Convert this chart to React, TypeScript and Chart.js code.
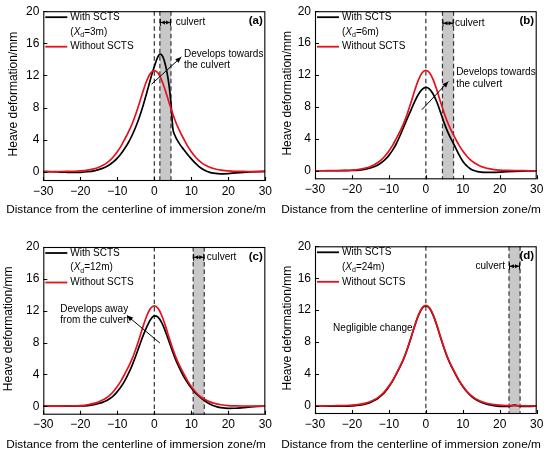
import React, { useEffect, useRef } from "react";
import { Chart, registerables } from "chart.js";

Chart.register(...registerables);

const FONT = "'Liberation Sans', Arial, Helvetica, sans-serif";

// ---------- data ----------
const X_GRID = [-30, -28, -26, -24, -22, -20, -18, -16, -15, -14, -13, -12, -11, -10, -9, -8, -7, -6, -5, -4, -3, -2, -1, 0, 1, 2, 3, 4, 5, 6, 7, 8, 9, 10, 11, 12, 13, 14, 15, 16, 17, 18, 20, 22, 24, 26, 28, 30];

const RED_WITHOUT = [0.02, 0.02, 0.03, 0.04, 0.06, 0.1, 0.2, 0.4, 0.56, 0.78, 1.05, 1.42, 1.9, 2.5, 3.2, 4.05, 4.95, 5.95, 7.2, 8.6, 10.1, 11.4, 12.3, 12.6, 12.3, 11.4, 10.1, 8.6, 7.2, 5.95, 4.95, 4.05, 3.2, 2.5, 1.9, 1.42, 1.05, 0.78, 0.56, 0.4, 0.28, 0.2, 0.1, 0.06, 0.04, 0.03, 0.02, 0.02];

const X_A = [-30, -28, -26, -24, -22, -20, -18, -16, -15, -14, -13, -12, -11, -10, -9, -8, -7, -6, -5, -4, -3, -2, -1, -0.5, 0, 0.5, 1, 1.5, 2, 2.5, 3, 3.5, 4, 4.5, 5, 5.5, 6, 7, 8, 9, 10, 11, 12, 13, 14, 15, 16, 18, 20, 22, 24, 26, 28, 30];
const BLACK_A = [0.03, 0.0, -0.03, -0.06, -0.08, -0.07, 0.0, 0.15, 0.27, 0.42, 0.62, 0.9, 1.25, 1.7, 2.25, 2.9, 3.65, 4.55, 5.6, 6.85, 8.3, 9.9, 11.6, 12.4, 13.1, 13.8, 14.35, 14.65, 14.55, 14.1, 13.3, 12.2, 10.7, 8.6, 5.4, 4.6, 4.1, 3.35, 2.75, 2.15, 1.6, 1.1, 0.68, 0.35, 0.1, -0.08, -0.18, -0.26, -0.22, -0.14, -0.07, -0.02, 0.02, 0.05];

const BLACK_B = [0.02, 0.02, 0.02, 0.02, 0.03, 0.05, 0.1, 0.24, 0.36, 0.52, 0.75, 1.05, 1.45, 1.95, 2.6, 3.4, 4.4, 5.5, 6.6, 7.65, 8.7, 9.6, 10.2, 10.45, 10.25, 9.6, 8.6, 7.3, 5.95, 4.8, 3.85, 2.95, 2.0, 1.2, 0.65, 0.28, 0.05, -0.08, -0.15, -0.18, -0.19, -0.18, -0.14, -0.09, -0.05, -0.02, 0.0, 0.02];

const BLACK_C = [0.02, 0.02, 0.02, 0.02, 0.03, 0.05, 0.1, 0.25, 0.36, 0.5, 0.7, 0.98, 1.35, 1.85, 2.45, 3.2, 4.1, 5.15, 6.35, 7.65, 8.9, 10.0, 10.9, 11.35, 11.2, 10.5, 9.4, 8.1, 6.8, 5.6, 4.6, 3.7, 2.95, 2.3, 1.75, 1.3, 0.92, 0.58, 0.3, 0.08, -0.07, -0.17, -0.26, -0.24, -0.16, -0.07, -0.01, 0.02];

const BLACK_D = [0.0, 0.0, -0.02, -0.03, -0.02, 0.02, 0.1, 0.3, 0.46, 0.68, 0.95, 1.32, 1.8, 2.42, 3.12, 4.0, 4.9, 5.9, 7.15, 8.55, 10.05, 11.35, 12.25, 12.55, 12.25, 11.35, 10.05, 8.55, 7.15, 5.9, 4.9, 4.0, 3.15, 2.45, 1.85, 1.36, 0.98, 0.7, 0.47, 0.3, 0.17, 0.08, -0.05, -0.06, 0.1, -0.04, -0.04, 0.0];

const X_TICKS = [-30, -20, -10, 0, 10, 20, 30];
const Y_TICKS = [0, 4, 8, 12, 16, 20];
const CULVERT_WIDTH = 3;
const XD_VALUES = [3, 6, 12, 24];
const PANEL_LABELS = ["(a)", "(b)", "(c)", "(d)"];
const X_TITLE = "Distance from the centerline of immersion zone/m";
const Y_TITLE = "Heave deformation/mm";

// ---------- layout / annotation config ----------
type Pt = [number, number];
interface PanelCfg {
  label: string;
  xd: number;
  bx: number[];
  by: number[];
  left: number;
  top: number;
  l: number; r: number; t: number; b: number;
  yMin: number;
  yTitleX: number;
  xTitleY: number;
  culvY: number;
  culvText: { x: number; align: CanvasTextAlign };
  note: { lines: string[]; x: number; y: number };
  arrow?: { from: Pt; to: Pt };
}

const PANELS: PanelCfg[] = [
  {
    label: PANEL_LABELS[0], xd: XD_VALUES[0], bx: X_A, by: BLACK_A, left: 0, top: 0,
    l: 43.3, r: 265.7, t: 11, b: 181, yMin: -1.15, yTitleX: 13.3, xTitleY: 209.3,
    culvY: 18.6, culvText: { x: 5.8, align: "left" },
    note: { lines: ["Develops towards", "the culvert"], x: 8.0, y: 14.7 },
    arrow: { from: [-0.75, 10.9], to: [7.3, 14.3] },
  },
  {
    label: PANEL_LABELS[1], xd: XD_VALUES[1], bx: X_GRID, by: BLACK_B, left: 275, top: 0,
    l: 40, r: 261.7, t: 10, b: 179.3, yMin: -1.05, yTitleX: 12.7, xTitleY: 209.3,
    culvY: 18.5, culvText: { x: 7.9, align: "left" },
    note: { lines: ["Develops towards", "the culvert"], x: 8.2, y: 12.3 },
    arrow: { from: [-1.1, 7.65], to: [6.1, 11.2] },
  },
  {
    label: PANEL_LABELS[2], xd: XD_VALUES[2], bx: X_GRID, by: BLACK_C, left: 0, top: 228,
    l: 43.3, r: 265.7, t: 19, b: 186.7, yMin: -1.05, yTitleX: 8.3, xTitleY: 216.7,
    culvY: 18.7, culvText: { x: 14.2, align: "left" },
    note: { lines: ["Develops away", "from the culvert"], x: -25.4, y: 12.2 },
    arrow: { from: [1.5, 7.95], to: [-7.4, 11.4] },
  },
  {
    label: PANEL_LABELS[3], xd: XD_VALUES[3], bx: X_GRID, by: BLACK_D, left: 275, top: 228,
    l: 40, r: 261.7, t: 18.3, b: 186, yMin: -1.0, yTitleX: 13, xTitleY: 216.7,
    culvY: 17.5, culvText: { x: 21.4, align: "right" },
    note: { lines: ["Negligible change"], x: -25.1, y: 9.8 },
  },
];

const W = 275;
const H = 228;

function drawArrowHead(ctx: CanvasRenderingContext2D, x: number, y: number, ang: number, len: number, half: number) {
  ctx.beginPath();
  ctx.moveTo(x, y);
  ctx.lineTo(x - len * Math.cos(ang) + half * Math.sin(ang), y - len * Math.sin(ang) - half * Math.cos(ang));
  ctx.lineTo(x - len * Math.cos(ang) - half * Math.sin(ang), y - len * Math.sin(ang) + half * Math.cos(ang));
  ctx.closePath();
  ctx.fill();
}

function makeDecor(p: PanelCfg) {
  return {
    id: "decor",
    beforeDatasetsDraw(chart: any) {
      const { ctx, chartArea: a, scales } = chart;
      const xs = scales.x;
      const x1 = xs.getPixelForValue(p.xd - CULVERT_WIDTH / 2);
      const x2 = xs.getPixelForValue(p.xd + CULVERT_WIDTH / 2);
      ctx.save();
      ctx.fillStyle = "#c8c8c8";
      ctx.fillRect(x1, a.top, x2 - x1, a.bottom - a.top);
      ctx.strokeStyle = "#333";
      ctx.lineWidth = 1.2;
      ctx.setLineDash([4.5, 3]);
      for (const v of [0, p.xd - CULVERT_WIDTH / 2, p.xd + CULVERT_WIDTH / 2]) {
        const px = xs.getPixelForValue(v);
        ctx.beginPath();
        ctx.moveTo(px, a.top);
        ctx.lineTo(px, a.bottom);
        ctx.stroke();
      }
      ctx.restore();
    },
    afterDatasetsDraw(chart: any) {
      const { ctx, chartArea: a, scales } = chart;
      const xs = scales.x;
      const ys = scales.y;
      ctx.save();
      // frame
      ctx.strokeStyle = "#000";
      ctx.lineWidth = 1.1;
      ctx.setLineDash([]);
      ctx.strokeRect(a.left + 0.5, a.top + 0.5, a.right - a.left - 1, a.bottom - a.top - 1);
      // inward ticks
      ctx.beginPath();
      for (const v of X_TICKS) {
        const px = Math.round(xs.getPixelForValue(v)) + 0.5;
        ctx.moveTo(px, a.bottom);
        ctx.lineTo(px, a.bottom - 4);
      }
      for (const v of Y_TICKS) {
        const py = Math.round(ys.getPixelForValue(v)) + 0.5;
        ctx.moveTo(a.left, py);
        ctx.lineTo(a.left + 4, py);
      }
      ctx.stroke();

      // axis titles
      ctx.fillStyle = "#000";
      ctx.textBaseline = "middle";
      ctx.textAlign = "center";
      ctx.font = `11.8px ${FONT}`;
      ctx.fillText(X_TITLE, 136, p.xTitleY);
      ctx.save();
      ctx.translate(p.yTitleX, (a.top + a.bottom) / 2 - 2);
      ctx.rotate(-Math.PI / 2);
      ctx.font = `12px ${FONT}`;
      ctx.fillText(Y_TITLE, 0, 0);
      ctx.restore();

      // legend
      const rows = [a.top + 6, a.top + 20.7, a.top + 35.5];
      const tx = a.left + 27;
      ctx.lineWidth = 1.8;
      ctx.strokeStyle = "#000";
      ctx.beginPath();
      ctx.moveTo(a.left + 2, rows[0]);
      ctx.lineTo(a.left + 24, rows[0]);
      ctx.stroke();
      ctx.strokeStyle = "#e8101a";
      ctx.beginPath();
      ctx.moveTo(a.left + 2, rows[2]);
      ctx.lineTo(a.left + 24, rows[2]);
      ctx.stroke();
      ctx.fillStyle = "#000";
      ctx.textBaseline = "middle";
      ctx.textAlign = "left";
      ctx.font = `10px ${FONT}`;
      ctx.fillText("With SCTS", tx, rows[0]);
      ctx.fillText("Without SCTS", tx, rows[2]);
      // (Xd=..m)
      let cx = tx;
      ctx.font = `10px ${FONT}`;
      ctx.fillText("(", cx, rows[1]);
      cx += ctx.measureText("(").width;
      ctx.font = `italic 10px ${FONT}`;
      ctx.fillText("X", cx, rows[1]);
      cx += ctx.measureText("X").width;
      ctx.font = `7px ${FONT}`;
      ctx.fillText("d", cx, rows[1] + 3);
      cx += ctx.measureText("d").width;
      ctx.font = `10px ${FONT}`;
      ctx.fillText(`=${p.xd}m)`, cx, rows[1]);

      // panel label
      ctx.font = `bold 11.5px ${FONT}`;
      ctx.textAlign = "right";
      ctx.fillText(p.label, a.right - 2.5, a.top + 9.5);

      // culvert dimension
      const x1 = xs.getPixelForValue(p.xd - CULVERT_WIDTH / 2);
      const x2 = xs.getPixelForValue(p.xd + CULVERT_WIDTH / 2);
      const cy = ys.getPixelForValue(p.culvY);
      ctx.strokeStyle = "#000";
      ctx.fillStyle = "#000";
      ctx.lineWidth = 1;
      ctx.beginPath();
      ctx.moveTo(x1 + 0.5, cy - 3.5);
      ctx.lineTo(x1 + 0.5, cy + 3.5);
      ctx.moveTo(x2 - 0.5, cy - 3.5);
      ctx.lineTo(x2 - 0.5, cy + 3.5);
      ctx.moveTo(x1, cy);
      ctx.lineTo(x2, cy);
      ctx.stroke();
      drawArrowHead(ctx, x1 + 1, cy, Math.PI, 4, 2);
      drawArrowHead(ctx, x2 - 1, cy, 0, 4, 2);
      ctx.font = `10px ${FONT}`;
      ctx.textAlign = p.culvText.align;
      ctx.fillText("culvert", xs.getPixelForValue(p.culvText.x), cy);

      // note text
      ctx.textAlign = "left";
      const nx = xs.getPixelForValue(p.note.x);
      const ny = ys.getPixelForValue(p.note.y);
      p.note.lines.forEach((s, i) => ctx.fillText(s, nx, ny + i * 11.5));

      // arrow
      if (p.arrow) {
        const fx = xs.getPixelForValue(p.arrow.from[0]);
        const fy = ys.getPixelForValue(p.arrow.from[1]);
        const ex = xs.getPixelForValue(p.arrow.to[0]);
        const ey = ys.getPixelForValue(p.arrow.to[1]);
        ctx.lineWidth = 1;
        ctx.beginPath();
        ctx.moveTo(fx, fy);
        ctx.lineTo(ex, ey);
        ctx.stroke();
        drawArrowHead(ctx, ex, ey, Math.atan2(ey - fy, ex - fx), 6, 2.5);
      }
      ctx.restore();
    },
  };
}

function Panel({ p }: { p: PanelCfg }) {
  const ref = useRef<HTMLCanvasElement>(null);
  useEffect(() => {
    const xAxisBottom = p.xTitleY + 7.2;
    const chart = new Chart(ref.current as HTMLCanvasElement, {
      type: "line",
      data: {
        datasets: [
          {
            label: "Without SCTS",
            data: X_GRID.map((x, i) => ({ x, y: RED_WITHOUT[i] })),
            borderColor: "#e8101a",
            borderWidth: 1.7,
            pointRadius: 0,
            tension: 0.4,
            cubicInterpolationMode: "monotone",
            fill: false,
          },
          {
            label: "With SCTS",
            data: p.bx.map((x, i) => ({ x, y: p.by[i] })),
            borderColor: "#000000",
            borderWidth: 1.7,
            pointRadius: 0,
            tension: 0.4,
            cubicInterpolationMode: "monotone",
            fill: false,
          },
        ],
      },
      options: {
        responsive: false,
        animation: false,
        events: [],
        layout: { padding: { left: 0, top: p.t, right: W - p.r, bottom: H - xAxisBottom } },
        plugins: { legend: { display: false }, tooltip: { enabled: false } },
        scales: {
          x: {
            type: "linear",
            min: -30,
            max: 30,
            afterBuildTicks: (s: any) => { s.ticks = X_TICKS.map((v) => ({ value: v })); },
            afterFit: (s: any) => { s.height = xAxisBottom - p.b; },
            grid: { display: false, drawTicks: false },
            border: { display: false },
            ticks: {
              font: { family: FONT, size: 12 },
              color: "#000",
              padding: 3,
              maxRotation: 0,
              autoSkip: false,
              callback: (v: any) => (Number(v) < 0 ? "\u2212" + Math.abs(Number(v)) : String(v)),
            },
            title: { display: false },
          },
          y: {
            type: "linear",
            min: p.yMin,
            max: 20,
            afterBuildTicks: (s: any) => { s.ticks = Y_TICKS.map((v) => ({ value: v })); },
            afterFit: (s: any) => { s.width = p.l; },
            grid: { display: false, drawTicks: false },
            border: { display: false },
            ticks: { font: { family: FONT, size: 12 }, color: "#000", padding: 4 },
            title: { display: false },
          },
        },
      },
      plugins: [makeDecor(p)],
    } as any);
    return () => chart.destroy();
  }, [p]);
  return (
    <canvas
      ref={ref}
      width={W}
      height={H}
      style={{ position: "absolute", left: p.left, top: p.top, width: W, height: H }}
    />
  );
}

export default function App() {
  return (
    <div style={{ position: "absolute", left: 0, top: 0, width: 550, height: 456, background: "#fff", overflow: "hidden" }}>
      {PANELS.map((p) => (
        <Panel key={p.label} p={p} />
      ))}
    </div>
  );
}
